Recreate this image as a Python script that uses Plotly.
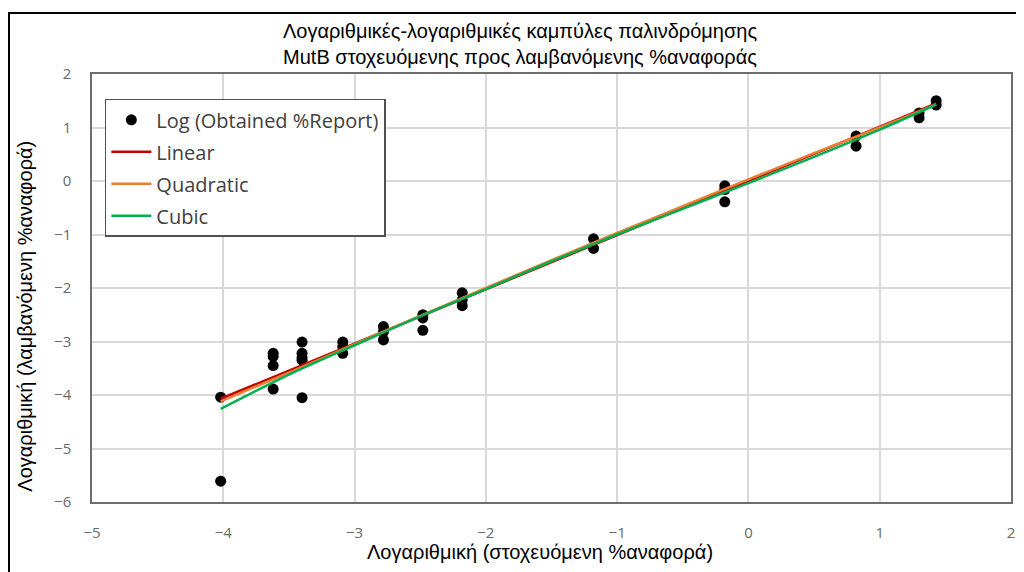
import plotly.graph_objects as go

# Observed data (log target %report vs log obtained %report)
obs_x = [-4.02, -4.02,
         -3.62, -3.62, -3.62, -3.62,
         -3.40, -3.40, -3.40, -3.40, -3.40,
         -3.09, -3.09, -3.09,
         -2.78, -2.78, -2.78,
         -2.48, -2.48, -2.48,
         -2.18, -2.18, -2.18,
         -1.18, -1.18,
         -0.18, -0.18, -0.18,
         0.82, 0.82,
         1.30, 1.30,
         1.43, 1.43]
obs_y = [-4.04, -5.61,
         -3.22, -3.28, -3.45, -3.89,
         -3.01, -3.22, -3.30, -3.35, -4.05,
         -3.01, -3.10, -3.22,
         -2.72, -2.82, -2.97,
         -2.50, -2.56, -2.79,
         -2.09, -2.22, -2.33,
         -1.08, -1.26,
         -0.09, -0.16, -0.39,
         0.84, 0.65,
         1.27, 1.18,
         1.50, 1.42]

# Fitted curves
lin_x = [-4.02, 1.43]
lin_y = [-4.07, 1.45]

quad_x = [-4.02, -3.5, -3.0, -2.5, -2.0, -1.5, -1.0, -0.5, 0.0, 0.5, 1.0, 1.43]
quad_y = [-4.12, -3.58, -3.05, -2.52, -2.00, -1.48, -0.97, -0.47, 0.03, 0.52, 1.00, 1.43]

cub_x = [-4.02, -3.5, -3.0, -2.5, -2.0, -1.5, -1.0, -0.5, 0.0, 0.5, 1.0, 1.43]
cub_y = [-4.26, -3.62, -3.07, -2.53, -2.02, -1.50, -1.00, -0.52, -0.04, 0.45, 0.96, 1.43]

x_ticks = [-5, -4, -3, -2, -1, 0, 1, 2]
y_ticks = [2, 1, 0, -1, -2, -3, -4, -5, -6]

title_text = ("Λογαριθμικές-λογαριθμικές καμπύλες παλινδρόμησης<br>"
              "MutB στοχευόμενης προς λαμβανόμενης %αναφοράς")
x_title = "Λογαριθμική (στοχευόμενη %αναφορά)"
y_title = "Λογαριθμική (λαμβανόμενη %αναφορά)"

FONT = "Liberation Sans, Arial, sans-serif"
TICKFONT = "Open Sans, Liberation Sans, sans-serif"

fig = go.Figure()
fig.add_trace(go.Scatter(x=obs_x, y=obs_y, mode="markers", name="Log (Obtained %Report)",
                         marker=dict(color="black", size=11), legendgroup="a"))
fig.add_trace(go.Scatter(x=lin_x, y=lin_y, mode="lines", name="Linear",
                         line=dict(color="#c00000", width=2.5), legendgroup="b"))
fig.add_trace(go.Scatter(x=quad_x, y=quad_y, mode="lines", name="Quadratic",
                         line=dict(color="#ed7d31", width=2.5, shape="spline"), legendgroup="c"))
fig.add_trace(go.Scatter(x=cub_x, y=cub_y, mode="lines", name="Cubic",
                         line=dict(color="#00b050", width=2.5, shape="spline"), legendgroup="d"))

axis_common = dict(showgrid=True, gridcolor="#d9d9d9", gridwidth=1.5, zeroline=False,
                   showline=True, linecolor="#6e6e6e", linewidth=1.5, mirror=True,
                   tickfont=dict(family=TICKFONT, size=15, color="#6a6a6a"),
                   ticks="")

fig.update_xaxes(range=[-5, 2], tickvals=x_ticks, ticklabelstandoff=16, **axis_common)
fig.update_yaxes(range=[-6, 2], tickvals=y_ticks, ticklabelstandoff=16, **axis_common)

fig.update_layout(
    width=1024, height=572,
    margin=dict(l=84, r=21, t=66, b=78),
    paper_bgcolor="white", plot_bgcolor="white",
    title=dict(text=title_text, x=0.5, xanchor="center", y=0.947, yanchor="top",
               font=dict(family=FONT, size=20, color="black")),
    legend=dict(x=0.014, y=0.942, xanchor="left", yanchor="top",
                bgcolor="white", bordercolor="#505050", borderwidth=1.5,
                font=dict(family=TICKFONT, size=20, color="#404040"),
                tracegroupgap=3, itemwidth=40),
    showlegend=True,
)

fig.add_annotation(text=x_title, xref="paper", yref="paper", x=0.4875, y=-0.117,
                   xanchor="center", yanchor="middle", showarrow=False,
                   font=dict(family=FONT, size=20, color="black"))
fig.add_annotation(text=y_title, xref="paper", yref="paper", x=-0.073, y=0.435,
                   xanchor="center", yanchor="middle", showarrow=False, textangle=-90,
                   font=dict(family=FONT, size=20, color="black"))

# outer chart border (cropped at right and bottom in the reference)
fig.add_shape(type="rect", xref="paper", yref="paper", x0=-0.0903, y0=-0.2, x1=1.03, y1=1.1425,
              line=dict(color="black", width=2), fillcolor="rgba(0,0,0,0)", layer="below")

fig.write_html("out.html")
